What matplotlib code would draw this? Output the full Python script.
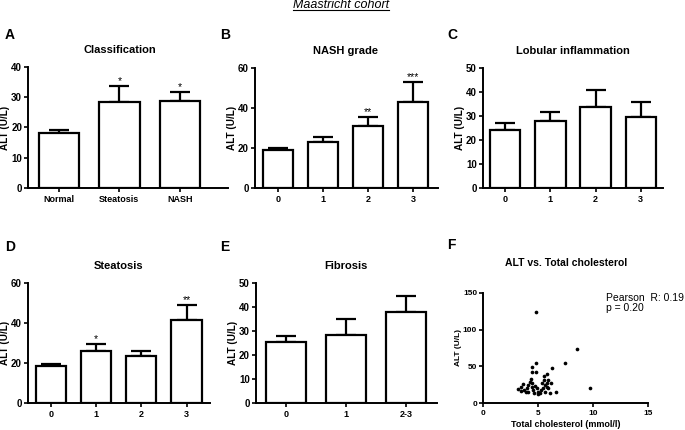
import matplotlib
matplotlib.use("Agg")
import matplotlib.pyplot as plt
from matplotlib.lines import Line2D

plt.rcParams['font.family'] = ['Liberation Sans', 'DejaVu Sans']

# ALT (U/L) mean and upper SEM per group
cls_cats = ["Normal", "Steatosis", "NASH"]
cls_mean = [18.1, 28.6, 28.9]
cls_err = [1.0, 5.1, 2.8]
cls_sig = ["", "*", "*"]

nash_cats = ["0", "1", "2", "3"]
nash_mean = [19.2, 23.2, 31.1, 43.1]
nash_err = [1.0, 2.2, 4.7, 10.2]
nash_sig = ["", "", "**", "***"]

lob_cats = ["0", "1", "2", "3"]
lob_mean = [24.2, 28.1, 33.6, 29.4]
lob_err = [2.7, 3.7, 7.1, 6.5]
lob_sig = ["", "", "", ""]

ste_cats = ["0", "1", "2", "3"]
ste_mean = [18.8, 26.4, 23.8, 41.7]
ste_err = [0.7, 3.3, 2.5, 7.3]
ste_sig = ["", "*", "", "**"]

fib_cats = ["0", "1", "2-3"]
fib_mean = [25.5, 28.4, 37.9]
fib_err = [2.6, 6.7, 6.8]
fib_sig = ["", "", ""]

# scatter: total cholesterol (mmol/l) vs ALT (U/L)
chol = [4.82, 8.5, 7.43, 4.82, 6.21, 4.4, 4.4, 4.76, 5.79, 5.52, 9.73, 6.61,
        3.18, 3.40, 3.64, 3.73, 3.94, 4.09, 4.24, 4.40, 4.45, 4.55, 4.70, 4.85,
        5.00, 5.15, 5.30, 5.40, 5.55, 5.61, 5.76, 5.91, 6.06, 6.15, 4.09, 3.85,
        3.42, 4.64, 5.76, 5.91, 4.3, 5.2, 4.95, 5.65]
alt = [124.2, 73.5, 55.3, 54.4, 47.3, 48.8, 42.5, 43.0, 40.0, 37.2, 20.3, 15.3,
       19.5, 22.7, 26.3, 18.1, 20.4, 24.9, 29.5, 27.3, 22.7, 18.1, 23.6, 20.4,
       15.9, 13.6, 27.3, 20.4, 31.8, 15.9, 28.2, 20.4, 13.6, 27.3, 15.9, 15.9,
       17.3, 14.5, 22.7, 31.8, 33.0, 18.5, 12.5, 24.5]

W, H = 685, 430
fig = plt.figure(figsize=(W / 100, H / 100), dpi=100)


def rect(l, t, r, b):
    return [l / W, 1 - b / H, (r - l) / W, (b - t) / H]


def style(ax, xfs=6.5, yfs=7):
    for s in ['top', 'right']:
        ax.spines[s].set_visible(False)
    for s in ['left', 'bottom']:
        ax.spines[s].set_linewidth(1.4)
    ax.tick_params(direction='out', length=3, width=1.2, pad=1.5)
    ax.tick_params(axis='x', labelsize=xfs, pad=2)
    ax.tick_params(axis='y', labelsize=yfs)
    plt.setp(ax.get_xticklabels() + ax.get_yticklabels(), fontweight='bold')


def put_ylabel(ax, box, fs, gap):
    # right edge of the rotated label sits `gap` pixels left of the y axis
    ax.set_ylabel("ALT (U/L)", fontsize=fs, fontweight='bold')
    ax.yaxis.set_label_coords(-gap / (box[2] - box[0]), 0.5)


def bar_panel(box, cats, mean, err, sig, ymax, ystep, title, xlim):
    ax = fig.add_axes(rect(*box))
    x = list(range(len(cats)))
    ax.bar(x, mean, width=0.67, color='white', edgecolor='black', linewidth=1.6, zorder=3)
    ax.errorbar(x, mean, yerr=[[0] * len(err), err], fmt='none', ecolor='black',
                elinewidth=1.6, capsize=7.5, capthick=1.6, zorder=2)
    for i, (m, e, s) in enumerate(zip(mean, err, sig)):
        if s:
            ax.annotate(s, (i, m + e), xytext=(0, 0), textcoords='offset points',
                        ha='center', va='bottom', fontsize=7.5)
    ax.set_xlim(*xlim)
    ax.set_ylim(0, ymax)
    ax.set_xticks(x, cats)
    ax.set_yticks(range(0, ymax + 1, ystep))
    put_ylabel(ax, box, 7.2, 18)
    ax.set_title(title, fontsize=8, fontweight='bold', pad=10)
    # centre the title over the bars, like the original layout
    ax.title.set_x(((len(cats) - 1) / 2 - xlim[0]) / (xlim[1] - xlim[0]))
    style(ax)
    return ax


bar_panel((28.3, 67.3, 228, 187.7), cls_cats, cls_mean, cls_err, cls_sig, 40, 10,
          "Classification", (-0.51, 2.8))
bar_panel((255, 68.3, 438, 188), nash_cats, nash_mean, nash_err, nash_sig, 60, 20,
          "NASH grade", (-0.52, 3.55))
bar_panel((483, 68, 663, 188), lob_cats, lob_mean, lob_err, lob_sig, 50, 10,
          "Lobular inflammation", (-0.49, 3.49))
bar_panel((28, 283.3, 210, 403.3), ste_cats, ste_mean, ste_err, ste_sig, 60, 20,
          "Steatosis", (-0.51, 3.52))
bar_panel((256, 283.3, 437, 403), fib_cats, fib_mean, fib_err, fib_sig, 50, 10,
          "Fibrosis", (-0.5, 2.51))

fbox = (483.3, 292.7, 648.3, 403.3)
axf = fig.add_axes(rect(*fbox))
axf.scatter(chol, alt, s=7, color='black', linewidths=0, zorder=3)
axf.set_xlim(0, 15)
axf.set_ylim(0, 150)
axf.set_xticks([0, 5, 10, 15])
axf.set_yticks([0, 50, 100, 150])
axf.set_xlabel("Total cholesterol (mmol/l)", fontsize=6.5, fontweight='bold', labelpad=2)
put_ylabel(axf, fbox, 6, 21)
axf.set_title("ALT vs. Total cholesterol", fontsize=7.5, fontweight='bold', pad=19)
axf.text(0.745, 1.0, "Pearson  R: 0.19\np = 0.20", transform=axf.transAxes,
         va='top', ha='left', fontsize=7.5, linespacing=1.0)
style(axf, xfs=6, yfs=6)

for letter, px, py in [("A", 5, 28), ("B", 220, 28), ("C", 447, 28),
                       ("D", 5, 240), ("E", 220, 240), ("F", 447, 238)]:
    fig.text(px / W, 1 - py / H, letter, fontsize=10, fontweight='bold', va='top', ha='left')

head = fig.text(341 / W, 1 - 8.5 / H, "Maastricht cohort", ha='center', va='baseline',
                fontsize=9, style='italic')
fig.canvas.draw()
bb = head.get_window_extent()
fig.add_artist(Line2D([bb.x0 / W, bb.x1 / W], [1 - 10.3 / H, 1 - 10.3 / H],
                      transform=fig.transFigure, color='black', linewidth=0.8))

fig.savefig("out.png", dpi=100)
